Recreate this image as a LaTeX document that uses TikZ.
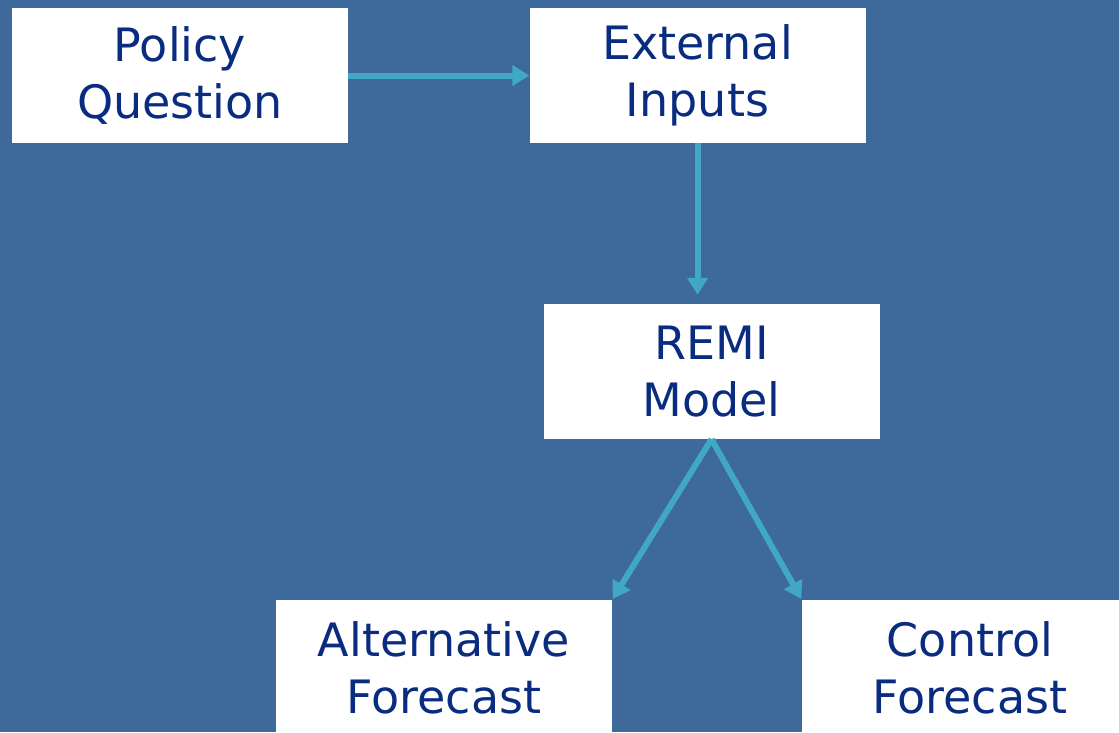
\documentclass[tikz,border=0pt]{standalone}
\usepackage{fontspec}
\setmainfont{DejaVu Sans}
\usetikzlibrary{positioning,arrows.meta}
\definecolor{slide}{HTML}{3D6A9B}
\definecolor{flow}{HTML}{40A8C6}
\definecolor{navy}{HTML}{0A2C80}
\tikzset{
  block/.style={fill=white, text=navy, minimum width=336pt, minimum height=135pt,
    inner sep=0pt, align=center, font=\fontsize{46}{57}\selectfont},
  link/.style={flow, line width=6pt, -{Triangle[length=17pt,width=20pt]}}
}

\begin{document}
\begin{tikzpicture}[x=1pt,y=-1pt,on grid]
			\useasboundingbox[fill=slide] (0,0) rectangle (1119,732);
			\clip (0,0) rectangle (1119,732);
			\node[block] (pq) at (180,75.5) {Policy\\Question};
			\node[block] (ei) [right=517.5pt of pq] {External\\Inputs};
			\node[block] (remi) [below right=296pt and 14pt of ei] {REMI\\Model};
			\node[block] (af) [below left=296pt and 267.5pt of remi] {Alternative\\Forecast};
			\node[block] (cf) [below right=296pt and 258.5pt of remi] {Control\\Forecast};
			\draw[link] (pq) -- (ei);
			\draw[link, shorten >=9pt] (ei) -- (ei |- remi.north);
			\draw[link, shorten >=1pt] (remi.south) -- (af.north east);
			\draw[link, shorten >=1pt] (remi.south) -- (cf.north west);
		\end{tikzpicture}
\end{document}
